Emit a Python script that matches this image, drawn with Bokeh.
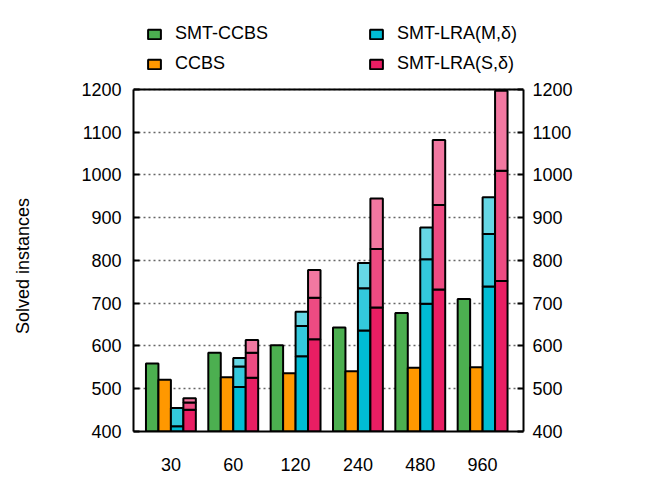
from bokeh.plotting import figure
from bokeh.models import Range1d, LinearAxis, FixedTicker, Legend, LegendItem, Span
from bokeh.embed import file_html
from bokeh.resources import INLINE

categories = ["30", "60", "120", "240", "480", "960"]
smt_ccbs = [559, 584, 602, 643, 677, 710]
ccbs = [521, 527, 536, 541, 549, 550]
lra_m_low = [412, 504, 576, 636, 699, 739]
lra_m_mid = [455, 552, 647, 735, 803, 862]
lra_m_high = [455, 572, 680, 794, 877, 948]
lra_s_low = [451, 526, 616, 690, 732, 752]
lra_s_mid = [468, 584, 713, 827, 930, 1010]
lra_s_high = [478, 614, 778, 945, 1082, 1197]
y_ticks = [400, 500, 600, 700, 800, 900, 1000, 1100, 1200]
y_title = "Solved instances"

GREEN = "#4CAF50"
ORANGE = "#FF9800"
CYAN = ["#00BCD4", "#33C9DD", "#66D7E5"]
PINK = ["#E91E63", "#ED4B82", "#F278A1"]
FONT = "Liberation Sans"
FS = "18px"

n = len(categories)
idx = list(range(n))
base = [y_ticks[0]] * n

# frame extends above the 1200 line to host the legend
y_top = 1408

p = figure(width=650, height=488, output_backend="svg", toolbar_location=None,
           x_range=Range1d(-0.6, 5.656), y_range=Range1d(y_ticks[0], y_top),
           min_border_left=133, min_border_right=127, min_border_top=0, min_border_bottom=57)

bw = 0.2
def xs(off):
    return [i + off for i in idx]

kw = dict(width=bw, line_color="black", line_width=2)
r_g = p.vbar(x=xs(-0.3), bottom=base, top=smt_ccbs, fill_color=GREEN, **kw)
r_o = p.vbar(x=xs(-0.1), bottom=base, top=ccbs, fill_color=ORANGE, **kw)
r_c = p.vbar(x=xs(0.1), bottom=base, top=lra_m_low, fill_color=CYAN[0], **kw)
p.vbar(x=xs(0.1), bottom=lra_m_low, top=lra_m_mid, fill_color=CYAN[1], **kw)
p.vbar(x=xs(0.1), bottom=lra_m_mid, top=lra_m_high, fill_color=CYAN[2], **kw)
r_p = p.vbar(x=xs(0.3), bottom=base, top=lra_s_low, fill_color=PINK[0], **kw)
p.vbar(x=xs(0.3), bottom=lra_s_low, top=lra_s_mid, fill_color=PINK[1], **kw)
p.vbar(x=xs(0.3), bottom=lra_s_mid, top=lra_s_high, fill_color=PINK[2], **kw)

p.xgrid.visible = False
p.ygrid.ticker = FixedTicker(ticks=y_ticks)
p.ygrid.grid_line_color = "#666666"
p.ygrid.grid_line_dash = "2 3"
p.ygrid.grid_line_width = 1.5

p.outline_line_color = None
p.add_layout(Span(location=y_ticks[-1], dimension="width", line_color="black", line_width=2))

right = LinearAxis()
p.add_layout(right, "right")

for ax in p.yaxis:
    ax.ticker = FixedTicker(ticks=y_ticks)
    ax.bounds = (y_ticks[0], y_ticks[-1])
    ax.major_tick_in = 6
    ax.major_tick_out = 0
    ax.minor_tick_line_color = None
    ax.major_tick_line_width = 2
    ax.axis_line_width = 2
    ax.major_label_text_font = FONT
    ax.major_label_text_font_size = FS
    ax.major_label_text_color = "black"
p.yaxis[0].major_label_standoff = 12
right.major_label_standoff = 9

# trailing non-breaking spaces keep the title centred on the 400-1200 box
# rather than on the taller frame that also holds the legend
p.yaxis[0].axis_label = y_title + "\u00a0" * 20
p.yaxis[0].axis_label_text_font = FONT
p.yaxis[0].axis_label_text_font_size = FS
p.yaxis[0].axis_label_text_font_style = "normal"
p.yaxis[0].axis_label_text_color = "black"
p.yaxis[0].axis_label_standoff = 45

xa = p.xaxis[0]
xa.ticker = FixedTicker(ticks=idx)
xa.major_label_overrides = {i: c for i, c in zip(idx, categories)}
xa.major_tick_line_color = None
xa.minor_tick_line_color = None
xa.axis_line_width = 2
xa.major_label_standoff = 20
xa.major_label_text_font = FONT
xa.major_label_text_font_size = FS
xa.major_label_text_color = "black"

def make_legend(items, loc):
    lg = Legend(items=items, location=loc, orientation="vertical")
    lg.glyph_width = 16
    lg.glyph_height = 12
    lg.label_standoff = 13
    lg.label_text_font = FONT
    lg.label_text_font_size = FS
    lg.label_text_color = "black"
    lg.label_height = 20
    lg.spacing = 9
    lg.padding = 0
    lg.margin = 0
    lg.border_line_color = None
    lg.background_fill_alpha = 0
    return lg

leg1 = make_legend([LegendItem(label="SMT-CCBS", renderers=[r_g]),
                    LegendItem(label="CCBS", renderers=[r_o])], (13, 357))
leg2 = make_legend([LegendItem(label="SMT-LRA(M,δ)", renderers=[r_c]),
                    LegendItem(label="SMT-LRA(S,δ)", renderers=[r_p])], (235, 357))
p.add_layout(leg1, "center")
p.add_layout(leg2, "center")

open("out.html", "w").write(file_html(p, INLINE))
